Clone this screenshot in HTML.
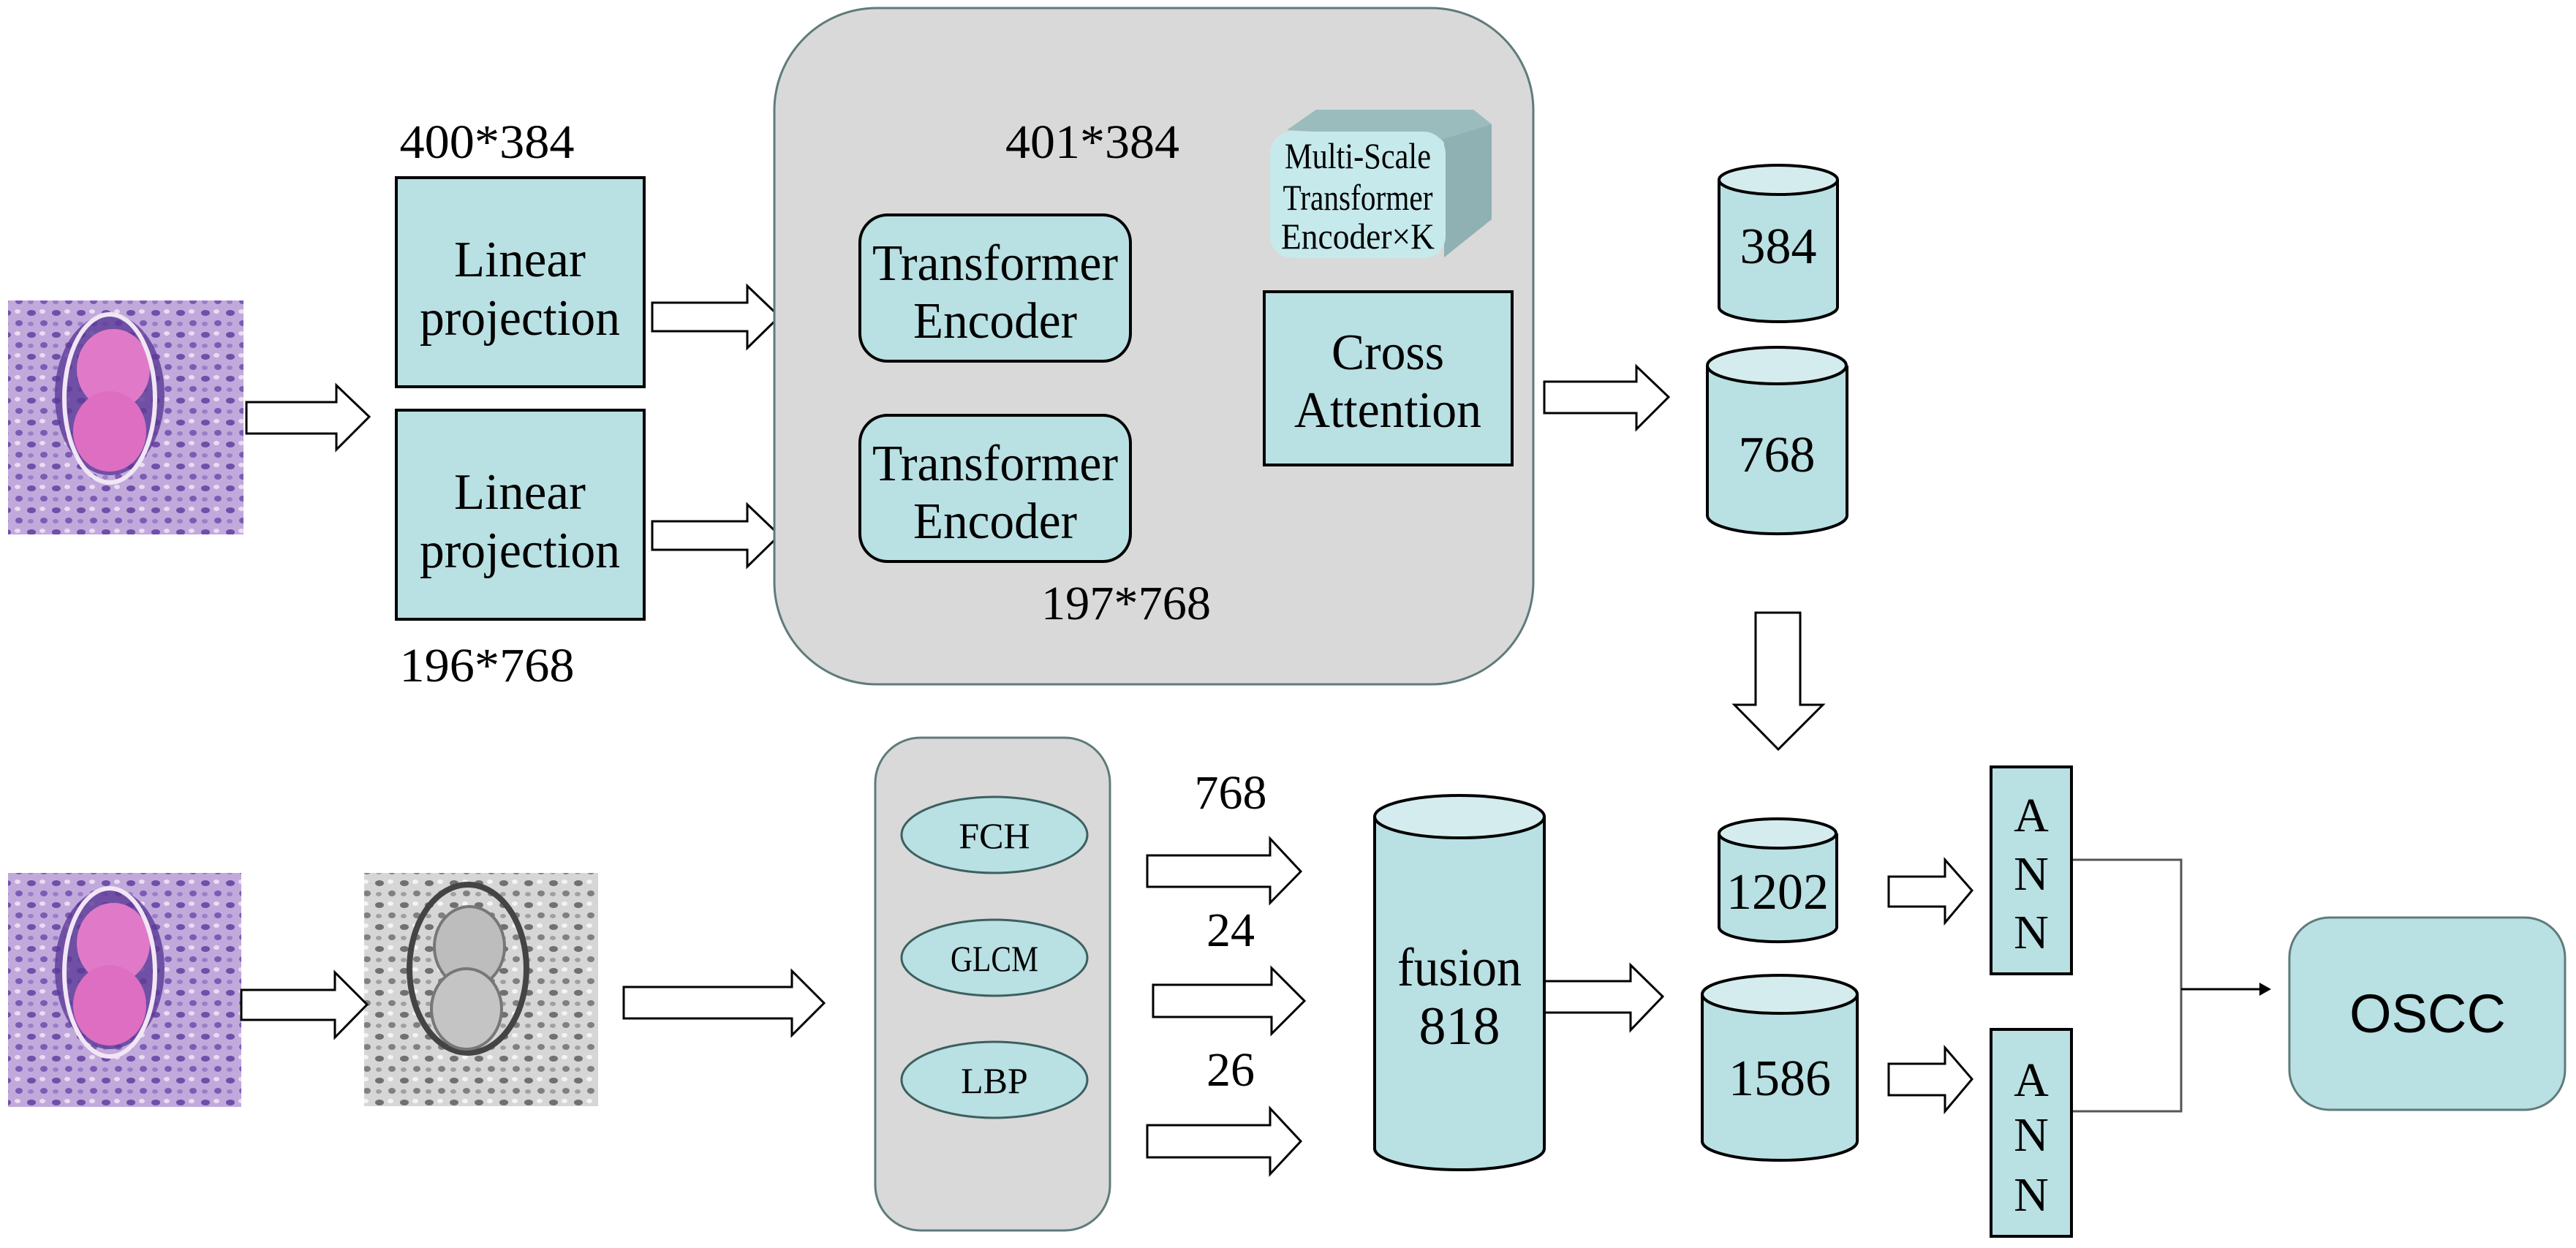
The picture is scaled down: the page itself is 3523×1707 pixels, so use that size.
<!DOCTYPE html>
<html><head><meta charset="utf-8"><style>
html,body{margin:0;padding:0;background:#fff;}
svg{display:block;}
text{font-family:"Liberation Serif",serif;fill:#000;}
</style></head><body>
<svg width="3523" height="1707" viewBox="0 0 3523 1707" xmlns="http://www.w3.org/2000/svg">
<defs>
<pattern id="cells" width="34" height="30" patternUnits="userSpaceOnUse">
<rect width="34" height="30" fill="#c2a9dc"/>
<ellipse cx="9" cy="8" rx="6" ry="4" fill="#6f4fa8"/>
<ellipse cx="26" cy="22" rx="5" ry="4" fill="#7b5cb4"/>
<ellipse cx="24" cy="6" rx="4" ry="3" fill="#e8ddf2"/>
<ellipse cx="8" cy="23" rx="4" ry="3" fill="#9a7fc8"/>
</pattern>
<pattern id="gcells" width="34" height="30" patternUnits="userSpaceOnUse">
<rect width="34" height="30" fill="#d6d6d6"/>
<ellipse cx="9" cy="8" rx="6" ry="4" fill="#707070"/>
<ellipse cx="26" cy="22" rx="5" ry="4" fill="#808080"/>
<ellipse cx="24" cy="6" rx="4" ry="3" fill="#f4f4f4"/>
<ellipse cx="8" cy="23" rx="4" ry="3" fill="#a0a0a0"/>
</pattern>
</defs>

<rect x="11" y="411" width="322" height="320" fill="url(#cells)"/>
<ellipse cx="150" cy="540" rx="75" ry="110" fill="#5a3a96" opacity="0.8"/>
<ellipse cx="155" cy="505" rx="50" ry="55" fill="#e07ac8"/>
<ellipse cx="150" cy="590" rx="50" ry="55" fill="#de6ec2"/>
<ellipse cx="150" cy="545" rx="62" ry="115" fill="none" stroke="#f2e6f5" stroke-width="6"/>

<rect x="11" y="1194" width="319" height="320" fill="url(#cells)"/>
<ellipse cx="150" cy="1325" rx="75" ry="110" fill="#5a3a96" opacity="0.8"/>
<ellipse cx="155" cy="1290" rx="50" ry="55" fill="#e07ac8"/>
<ellipse cx="150" cy="1375" rx="50" ry="55" fill="#de6ec2"/>
<ellipse cx="150" cy="1330" rx="62" ry="115" fill="none" stroke="#f2e6f5" stroke-width="6"/>

<rect x="498" y="1194" width="320" height="319" fill="url(#gcells)"/>
<ellipse cx="640" cy="1325" rx="80" ry="115" fill="none" stroke="#444" stroke-width="8"/>
<ellipse cx="642" cy="1295" rx="48" ry="55" fill="#bdbdbd" stroke="#777" stroke-width="4"/>
<ellipse cx="638" cy="1380" rx="48" ry="55" fill="#c4c4c4" stroke="#777" stroke-width="4"/>

<g fill="#fff" stroke="#000" stroke-width="3">
<polygon points="337,550 460,550 460,527 505,570 460,615 460,593 337,593"/>
<polygon points="892,414 1022,414 1022,391 1066,433 1022,476 1022,453 892,453"/>
<polygon points="892,713 1022,713 1022,690 1066,732 1022,775 1022,752 892,752"/>
<polygon points="1557,524 1690,524 1690,500 1726,545 1690,588 1690,567 1557,567"/>
<polygon points="2112,522 2238,522 2238,501 2282,543 2238,587 2238,565 2112,565"/>
<polygon points="2401,838 2462,838 2462,964 2493,964 2432,1025 2372,964 2401,964"/>
<polygon points="330,1354 458,1354 458,1330 502,1374 458,1419 458,1395 330,1395"/>
<polygon points="853,1350 1083,1350 1083,1328 1127,1372 1083,1416 1083,1393 853,1393"/>
<polygon points="1569,1170 1737,1170 1737,1147 1779,1192 1737,1235 1737,1213 1569,1213"/>
<polygon points="1577,1347 1739,1347 1739,1324 1784,1369 1739,1414 1739,1391 1577,1391"/>
<polygon points="1569,1539 1737,1539 1737,1516 1779,1561 1737,1606 1737,1583 1569,1583"/>
<polygon points="2112,1342 2230,1342 2230,1320 2274,1363 2230,1409 2230,1385 2112,1385"/>
<polygon points="2583,1199 2660,1199 2660,1176 2697,1218 2660,1262 2660,1240 2583,1240"/>
<polygon points="2583,1455 2660,1455 2660,1433 2697,1476 2660,1520 2660,1498 2583,1498"/>
</g>

<g fill="#b9e0e3" stroke="#000" stroke-width="4">
<rect x="542" y="243" width="339" height="286"/>
<rect x="542" y="561" width="339" height="286"/>
</g>
<g font-size="70" text-anchor="middle" lengthAdjust="spacingAndGlyphs">
<text x="711" y="378" textLength="180" lengthAdjust="spacingAndGlyphs">Linear</text>
<text x="711" y="458" textLength="274" lengthAdjust="spacingAndGlyphs">projection</text>
<text x="711" y="696" textLength="180" lengthAdjust="spacingAndGlyphs">Linear</text>
<text x="711" y="776" textLength="274" lengthAdjust="spacingAndGlyphs">projection</text>
<text x="666" y="216" font-size="66" textLength="239" lengthAdjust="spacingAndGlyphs">400*384</text>
<text x="666" y="932" font-size="66" textLength="239" lengthAdjust="spacingAndGlyphs">196*768</text>
</g>

<rect x="1059" y="11" width="1038" height="925" rx="140" ry="140" fill="#d9d9d9" stroke="#5f7b7b" stroke-width="3"/>
<text x="1494" y="216" font-size="66" text-anchor="middle" textLength="238" lengthAdjust="spacingAndGlyphs">401*384</text>
<text x="1540" y="847" font-size="66" text-anchor="middle" textLength="232" lengthAdjust="spacingAndGlyphs">197*768</text>
<g fill="#b9e0e3" stroke="#000" stroke-width="4">
<rect x="1176" y="294" width="370" height="200" rx="38"/>
<rect x="1176" y="568" width="370" height="200" rx="38"/>
<rect x="1729" y="399" width="339" height="237"/>
</g>
<g font-size="70" text-anchor="middle">
<text x="1361" y="383" textLength="336" lengthAdjust="spacingAndGlyphs">Transformer</text>
<text x="1361" y="462" textLength="224" lengthAdjust="spacingAndGlyphs">Encoder</text>
<text x="1361" y="657" textLength="336" lengthAdjust="spacingAndGlyphs">Transformer</text>
<text x="1361" y="736" textLength="224" lengthAdjust="spacingAndGlyphs">Encoder</text>
<text x="1898" y="505" textLength="154" lengthAdjust="spacingAndGlyphs">Cross</text>
<text x="1898" y="584" textLength="256" lengthAdjust="spacingAndGlyphs">Attention</text>
</g>
<polygon points="1760,178 1800,150 2015,150 2040,170 2040,300 1975,352 1975,195 1960,178" fill="#8fb1b3"/>
<polygon points="1760,178 1800,150 2015,150 2040,170 1975,190" fill="#9bbcbd"/>
<rect x="1737" y="180" width="240" height="173" rx="30" fill="#c6e9ec"/>
<g font-size="50" text-anchor="middle">
<text x="1857" y="230" textLength="200" lengthAdjust="spacingAndGlyphs">Multi-Scale</text>
<text x="1857" y="287" textLength="205" lengthAdjust="spacingAndGlyphs">Transformer</text>
<text x="1857" y="340" textLength="210" lengthAdjust="spacingAndGlyphs">Encoder×K</text>
</g>

<rect x="1197" y="1009" width="321" height="674" rx="62" fill="#d9d9d9" stroke="#5f7b7b" stroke-width="3"/>
<g fill="#b9e0e3" stroke="#3d5f5f" stroke-width="3">
<ellipse cx="1360" cy="1142" rx="127" ry="52"/>
<ellipse cx="1360" cy="1310" rx="127" ry="52"/>
<ellipse cx="1360" cy="1477" rx="127" ry="52"/>
</g>
<g font-size="50" text-anchor="middle">
<text x="1360" y="1160">FCH</text>
<text x="1360" y="1328" textLength="120" lengthAdjust="spacingAndGlyphs">GLCM</text>
<text x="1360" y="1495">LBP</text>
</g>
<g font-size="66" text-anchor="middle">
<text x="1683" y="1106">768</text>
<text x="1683" y="1294">24</text>
<text x="1683" y="1485">26</text>
</g>

<g stroke="#000" stroke-width="4">
<path d="M2351,246 V420 A81,20 0 0 0 2513,420 V246" fill="#b9e0e3"/>
<ellipse cx="2432" cy="246" rx="81" ry="20" fill="#d5ecee"/>
<path d="M2335,500 V705 A95,25 0 0 0 2526,705 V500" fill="#b9e0e3"/>
<ellipse cx="2430" cy="500" rx="95" ry="25" fill="#d5ecee"/>
<path d="M1880,1117 V1571 A116,29 0 0 0 2112,1571 V1117" fill="#b9e0e3"/>
<ellipse cx="1996" cy="1117" rx="116" ry="29" fill="#d5ecee"/>
<path d="M2351,1140 V1268 A80,20 0 0 0 2512,1268 V1140" fill="#b9e0e3"/>
<ellipse cx="2431" cy="1140" rx="80" ry="20" fill="#d5ecee"/>
<path d="M2328,1360 V1561 A106,26 0 0 0 2540,1561 V1360" fill="#b9e0e3"/>
<ellipse cx="2434" cy="1360" rx="106" ry="26" fill="#d5ecee"/>
</g>
<g font-size="70" text-anchor="middle">
<text x="2432" y="360">384</text>
<text x="2430" y="645">768</text>
<text x="2431" y="1243" textLength="140" lengthAdjust="spacingAndGlyphs">1202</text>
<text x="2434" y="1498" textLength="140" lengthAdjust="spacingAndGlyphs">1586</text>
<text x="1996" y="1348" font-size="74" textLength="170" lengthAdjust="spacingAndGlyphs">fusion</text>
<text x="1996" y="1428" font-size="74">818</text>
</g>

<g fill="#b9e0e3" stroke="#000" stroke-width="4">
<rect x="2723" y="1049" width="110" height="283"/>
<rect x="2723" y="1408" width="110" height="283"/>
</g>
<g font-size="66" text-anchor="middle">
<text x="2778" y="1137">A</text>
<text x="2778" y="1217">N</text>
<text x="2778" y="1297">N</text>
<text x="2778" y="1499">A</text>
<text x="2778" y="1574">N</text>
<text x="2778" y="1656">N</text>
</g>

<g stroke="#555" stroke-width="3" fill="none">
<polyline points="2835,1176 2983,1176 2983,1520 2835,1520"/>
<line x1="2983" y1="1353" x2="3092" y2="1353" stroke="#000"/>
</g>
<polygon points="3090,1344 3106,1353 3090,1362" fill="#000"/>

<rect x="3131" y="1255" width="377" height="263" rx="55" fill="#b9e0e3" stroke="#5f7b7b" stroke-width="3"/>
<text x="3320" y="1412" font-size="74" text-anchor="middle" style="font-family:'Liberation Sans',sans-serif">OSCC</text>
</svg>
</body></html>
